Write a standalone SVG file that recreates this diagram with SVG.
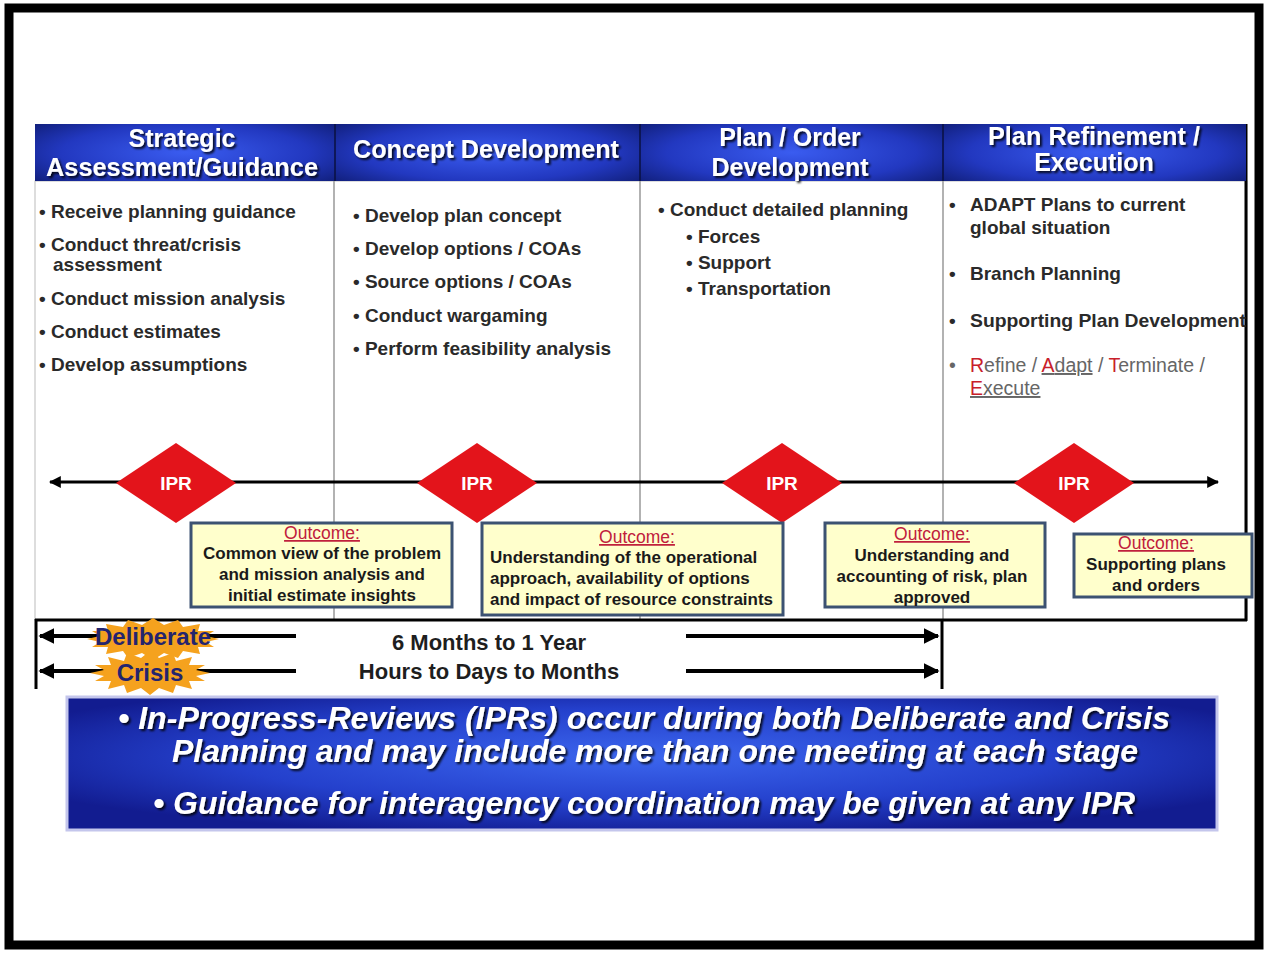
<svg xmlns="http://www.w3.org/2000/svg" width="1267" height="953" viewBox="0 0 1267 953">
<defs>
<radialGradient id="hdr" cx="0.5" cy="0.5" r="0.75" gradientTransform="translate(0.5 0.5) scale(1 1.2) translate(-0.5 -0.5)">
<stop offset="0" stop-color="#3a5cf0"/><stop offset="0.55" stop-color="#2238c0"/><stop offset="1" stop-color="#0a1560"/>
</radialGradient>
<radialGradient id="ban" cx="0.5" cy="0.45" r="0.6">
<stop offset="0" stop-color="#3c66ee"/><stop offset="0.6" stop-color="#2440cc"/><stop offset="1" stop-color="#121c90"/>
</radialGradient>
<filter id="sh" x="-5%" y="-20%" width="110%" height="150%">
<feDropShadow dx="2" dy="2" stdDeviation="1.2" flood-color="#000" flood-opacity="0.85"/>
</filter>
<marker id="ah" viewBox="0 0 10 10" refX="9" refY="5" markerWidth="4" markerHeight="4" orient="auto-start-reverse">
<path d="M0,0 L10,5 L0,10 z" fill="#000"/>
</marker>
</defs>
<style>
.hd{font-family:"Liberation Sans",Arial,sans-serif;font-weight:bold;font-size:25px;fill:#fff;text-anchor:middle}
.bl{font-family:"Liberation Sans",Arial,sans-serif;font-weight:bold;font-size:19px;fill:#2a2a2a}
.rf{font-family:"Liberation Sans",Arial,sans-serif;font-size:19.5px;fill:#666}
.red{fill:#c8202a}
.oc{font-family:"Liberation Sans",Arial,sans-serif;font-size:17.5px;fill:#c0203c;text-anchor:middle;text-decoration:underline}
.ot{font-family:"Liberation Sans",Arial,sans-serif;font-weight:bold;font-size:17px;fill:#1a1a1a}
.ob{fill:#ffffcc;stroke:#3c5272;stroke-width:3}
.ipr{fill:#e3141b}
.ipt{font-family:"Liberation Sans",Arial,sans-serif;font-weight:bold;font-size:19px;fill:#fff;text-anchor:middle}
.tm{font-family:"Liberation Sans",Arial,sans-serif;font-weight:bold;font-size:22px;fill:#1e1e1e;text-anchor:middle}
.st{fill:#f5a21e}
.stt{font-family:"Liberation Sans",Arial,sans-serif;font-weight:bold;font-size:24px;fill:#24246e;text-anchor:middle}
.bn{font-family:"Liberation Sans",Arial,sans-serif;font-weight:bold;font-style:italic;font-size:32px;fill:#fff;text-anchor:middle}
.ln{stroke:#000;stroke-width:4;fill:none}
</style>
<rect x="0" y="0" width="1267" height="953" fill="#fff"/>
<rect x="9" y="8" width="1250" height="937" fill="none" stroke="#000" stroke-width="9"/>

<g id="table">
<rect x="35" y="181" width="1212" height="439" fill="#fff" stroke="#bbb" stroke-width="1"/>
<line x1="334" y1="181" x2="334" y2="620" stroke="#999" stroke-width="1.5"/>
<line x1="640" y1="181" x2="640" y2="620" stroke="#999" stroke-width="1.5"/>
<line x1="943" y1="181" x2="943" y2="620" stroke="#999" stroke-width="1.5"/>
<line x1="1246" y1="124" x2="1246" y2="621" stroke="#000" stroke-width="3"/>
</g>

<g id="header">
<rect x="35" y="124" width="300" height="57" fill="url(#hdr)"/>
<rect x="335" y="124" width="305" height="57" fill="url(#hdr)"/>
<rect x="640" y="124" width="303" height="57" fill="url(#hdr)"/>
<rect x="943" y="124" width="303" height="57" fill="url(#hdr)"/>
<line x1="335" y1="124" x2="335" y2="181" stroke="#0a1040" stroke-width="1.5"/>
<line x1="640" y1="124" x2="640" y2="181" stroke="#0a1040" stroke-width="1.5"/>
<line x1="943" y1="124" x2="943" y2="181" stroke="#0a1040" stroke-width="1.5"/>
<g filter="url(#sh)">
<text class="hd" x="182" y="147">Strategic</text>
<text class="hd" x="182" y="176" textLength="272" lengthAdjust="spacingAndGlyphs">Assessment/Guidance</text>
<text class="hd" x="486" y="158" textLength="266" lengthAdjust="spacingAndGlyphs">Concept Development</text>
<text class="hd" x="790" y="146">Plan / Order</text>
<text class="hd" x="790" y="176">Development</text>
<text class="hd" x="1094" y="145" textLength="212" lengthAdjust="spacingAndGlyphs">Plan Refinement /</text>
<text class="hd" x="1094" y="171">Execution</text>
</g>
</g>

<g id="col1">
<text class="bl" x="39" y="218">• Receive planning guidance</text>
<text class="bl" x="39" y="251">• Conduct threat/crisis</text>
<text class="bl" x="53" y="271">assessment</text>
<text class="bl" x="39" y="305">• Conduct mission analysis</text>
<text class="bl" x="39" y="338">• Conduct estimates</text>
<text class="bl" x="39" y="371">• Develop assumptions</text>
</g>
<g id="col2">
<text class="bl" x="353" y="222">• Develop plan concept</text>
<text class="bl" x="353" y="255">• Develop options / COAs</text>
<text class="bl" x="353" y="288">• Source options / COAs</text>
<text class="bl" x="353" y="322">• Conduct wargaming</text>
<text class="bl" x="353" y="355">• Perform feasibility  analysis</text>
</g>
<g id="col3">
<text class="bl" x="658" y="216">• Conduct detailed planning</text>
<text class="bl" x="686" y="243">• Forces</text>
<text class="bl" x="686" y="269">• Support</text>
<text class="bl" x="686" y="295">• Transportation</text>
</g>
<g id="col4">
<text class="bl" x="949" y="211">•</text><text class="bl" x="970" y="211">ADAPT Plans to current</text>
<text class="bl" x="970" y="234">global situation</text>
<text class="bl" x="949" y="280">•</text><text class="bl" x="970" y="280">Branch Planning</text>
<text class="bl" x="949" y="327">•</text><text class="bl" x="970" y="327" textLength="276" lengthAdjust="spacingAndGlyphs">Supporting Plan Development</text>
<text class="rf" x="949" y="372">•</text>
<text class="rf" x="970" y="372"><tspan class="red">R</tspan>efine / <tspan text-decoration="underline"><tspan class="red">A</tspan>dapt</tspan> / <tspan class="red">T</tspan>erminate /</text>
<text class="rf" x="970" y="395" text-decoration="underline"><tspan class="red">E</tspan>xecute</text>
</g>

<g id="connectors">
<line x1="50" y1="482" x2="1218" y2="482" stroke="#000" stroke-width="3" marker-start="url(#ah)" marker-end="url(#ah)"/>
<line x1="35" y1="620" x2="1247" y2="620" stroke="#000" stroke-width="3"/>
<line x1="36" y1="619" x2="36" y2="689" stroke="#000" stroke-width="3"/>
<line x1="942" y1="619" x2="942" y2="689" stroke="#000" stroke-width="3"/>
<line class="ln" x1="296" y1="636" x2="40" y2="636" marker-end="url(#ah)"/>
<line class="ln" x1="296" y1="671" x2="40" y2="671" marker-end="url(#ah)"/>
<line class="ln" x1="686" y1="636" x2="938" y2="636" marker-end="url(#ah)"/>
<line class="ln" x1="686" y1="671" x2="938" y2="671" marker-end="url(#ah)"/>
</g>

<g id="ipr1"><polygon class="ipr" points="176,443 236,483 176,523 116,483"/><text class="ipt" x="176" y="490">IPR</text></g>
<g id="ipr2"><polygon class="ipr" points="477,443 537,483 477,523 417,483"/><text class="ipt" x="477" y="490">IPR</text></g>
<g id="ipr3"><polygon class="ipr" points="782,443 842,483 782,523 722,483"/><text class="ipt" x="782" y="490">IPR</text></g>
<g id="ipr4"><polygon class="ipr" points="1074,443 1134,483 1074,523 1014,483"/><text class="ipt" x="1074" y="490">IPR</text></g>

<g id="outcome1">
<rect class="ob" x="191" y="523" width="261" height="84"/>
<text class="oc" x="322" y="539">Outcome:</text>
<text class="ot" x="322" y="559" text-anchor="middle">Common view of the problem</text>
<text class="ot" x="322" y="580" text-anchor="middle">and mission  analysis and</text>
<text class="ot" x="322" y="601" text-anchor="middle">initial estimate insights</text>
</g>
<g id="outcome2">
<rect class="ob" x="482" y="523" width="301" height="92"/>
<text class="oc" x="637" y="543">Outcome:</text>
<text class="ot" x="490" y="563">Understanding  of the operational</text>
<text class="ot" x="490" y="584">approach, availability of options</text>
<text class="ot" x="490" y="605" textLength="283" lengthAdjust="spacingAndGlyphs">and impact of resource constraints</text>
</g>
<g id="outcome3">
<rect class="ob" x="825" y="523" width="220" height="84"/>
<text class="oc" x="932" y="540">Outcome:</text>
<text class="ot" x="932" y="561" text-anchor="middle">Understanding  and</text>
<text class="ot" x="932" y="582" text-anchor="middle">accounting of risk, plan</text>
<text class="ot" x="932" y="603" text-anchor="middle">approved</text>
</g>
<g id="outcome4">
<rect class="ob" x="1074" y="534" width="178" height="63"/>
<text class="oc" x="1156" y="549">Outcome:</text>
<text class="ot" x="1156" y="570" text-anchor="middle">Supporting plans</text>
<text class="ot" x="1156" y="591" text-anchor="middle">and orders</text>
</g>

<g id="deliberate">
<polygon class="st" points="219,639 206,642 214,647 198,647 200,654 183,651 178,658 164,653 153,660 142,653 128,658 123,651 106,654 108,647 92,647 100,642 87,639 100,636 92,631 108,631 106,624 123,627 128,620 142,625 153,618 164,625 178,620 183,627 200,624 198,631 214,631 206,636"/>
<text class="stt" x="153" y="645">Deliberate</text>
</g>
<g id="crisis">
<polygon class="st" points="210,673 196,676 205,681 189,681 192,689 176,685 173,693 159,688 150,695 141,688 127,693 124,685 108,689 111,681 95,681 104,676 90,673 104,670 95,665 111,665 108,657 124,661 127,653 141,658 150,651 159,658 173,653 176,661 192,657 189,665 205,665 196,670"/>
<text class="stt" x="150" y="681">Crisis</text>
</g>
<g id="durations">
<text class="tm" x="489" y="650">6 Months to 1 Year</text>
<text class="tm" x="489" y="679">Hours to Days to Months</text>
</g>

<g id="banner">
<rect x="67" y="697" width="1150" height="133" fill="url(#ban)" stroke="#c4c6ec" stroke-width="3"/>
<g filter="url(#sh)">
<text class="bn" x="644" y="729" textLength="1052" lengthAdjust="spacingAndGlyphs">• In-Progress-Reviews (IPRs) occur during both Deliberate and Crisis</text>
<text class="bn" x="655" y="762" textLength="966" lengthAdjust="spacingAndGlyphs">Planning and may include more than one meeting at each stage</text>
<text class="bn" x="644" y="814" textLength="982" lengthAdjust="spacingAndGlyphs">• Guidance for interagency coordination may be given at any IPR</text>
</g>
</g>
</svg>
